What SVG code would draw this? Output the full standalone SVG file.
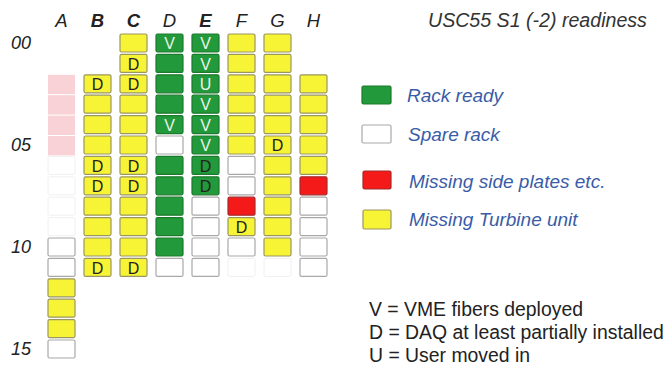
<svg xmlns="http://www.w3.org/2000/svg" width="667" height="365" viewBox="0 0 667 365">
<style>
text{font-family:"Liberation Sans",Arial,sans-serif}
.y{fill:#f6f434;stroke:#9a9660;stroke-width:1.2}
.g{fill:#22993a;stroke:#1c7a2e;stroke-width:1.2}
.w{fill:#ffffff;stroke:#a8a8a8;stroke-width:1.2}
.f{fill:#ffffff;stroke:#f0f0f0;stroke-width:1}
.p{fill:#f9d2d8}
.r{fill:#f41a1a;stroke:#a82828;stroke-width:1.2}
.lt{font-size:16px;text-anchor:middle}
.ld{fill:#222}
.lw{fill:#e8f5e8}
.hdr{font-size:18.5px;font-style:italic;fill:#222;text-anchor:middle}
.rowl{font-size:18px;font-style:italic;fill:#222}
.leg{font-size:19px;font-style:italic;fill:#3a5ca6}
.note{font-size:19.4px;fill:#222}
</style>
<defs>
<rect id="c" width="27" height="18" rx="1.5"/>
</defs>
<rect width="667" height="365" fill="#ffffff"/>
<text x="428" y="27" style="font-size:19.6px;font-style:italic;fill:#333">USC55 S1 (-2) readiness</text>
<g id="headers">
<text class="hdr" x="61.5" y="27">A</text>
<text class="hdr" x="97.5" y="27" font-weight="bold">B</text>
<text class="hdr" x="133.5" y="27" font-weight="bold">C</text>
<text class="hdr" x="169.5" y="27">D</text>
<text class="hdr" x="205.5" y="27" font-weight="bold">E</text>
<text class="hdr" x="241.5" y="27">F</text>
<text class="hdr" x="277.5" y="27">G</text>
<text class="hdr" x="313.5" y="27">H</text>
</g>
<g id="rowlabels">
<text class="rowl" x="11" y="49">00</text>
<text class="rowl" x="11" y="151">05</text>
<text class="rowl" x="11" y="253">10</text>
<text class="rowl" x="11" y="355">15</text>
</g>
<g id="colA">
<rect class="p" x="48" y="74.8" width="27" height="19.4"/>
<rect class="p" x="48" y="95.2" width="27" height="19.4"/>
<rect class="p" x="48" y="115.6" width="27" height="19.4"/>
<rect class="p" x="48" y="136" width="27" height="19.4"/>
<g id="A06"><use href="#c" class="f" x="48" y="156.4"/></g>
<g id="A07"><use href="#c" class="f" x="48" y="176.8"/></g>
<g id="A08"><use href="#c" class="f" x="48" y="197.2"/></g>
<g id="A09"><use href="#c" class="f" x="48" y="217.6"/></g>
<g id="A10"><use href="#c" class="w" x="48" y="238"/></g>
<g id="A11"><use href="#c" class="w" x="48" y="258.4"/></g>
<g id="A12"><use href="#c" class="y" x="48" y="278.8"/></g>
<g id="A13"><use href="#c" class="y" x="48" y="299.2"/></g>
<g id="A14"><use href="#c" class="y" x="48" y="319.6"/></g>
<g id="A15"><use href="#c" class="w" x="48" y="340"/></g>
</g>
<g id="colB">
<g id="B02"><use href="#c" class="y" x="84" y="74.8"/><text class="lt ld" x="97.5" y="90">D</text></g>
<g id="B03"><use href="#c" class="y" x="84" y="95.2"/></g>
<g id="B04"><use href="#c" class="y" x="84" y="115.6"/></g>
<g id="B05"><use href="#c" class="y" x="84" y="136"/></g>
<g id="B06"><use href="#c" class="y" x="84" y="156.4"/><text class="lt ld" x="97.5" y="171.6">D</text></g>
<g id="B07"><use href="#c" class="y" x="84" y="176.8"/><text class="lt ld" x="97.5" y="192">D</text></g>
<g id="B08"><use href="#c" class="y" x="84" y="197.2"/></g>
<g id="B09"><use href="#c" class="y" x="84" y="217.6"/></g>
<g id="B10"><use href="#c" class="y" x="84" y="238"/></g>
<g id="B11"><use href="#c" class="y" x="84" y="258.4"/><text class="lt ld" x="97.5" y="273.6">D</text></g>
</g>
<g id="colC">
<g id="C00"><use href="#c" class="y" x="120" y="34"/></g>
<g id="C01"><use href="#c" class="y" x="120" y="54.4"/><text class="lt ld" x="133.5" y="69.6">D</text></g>
<g id="C02"><use href="#c" class="y" x="120" y="74.8"/><text class="lt ld" x="133.5" y="90">D</text></g>
<g id="C03"><use href="#c" class="y" x="120" y="95.2"/></g>
<g id="C04"><use href="#c" class="y" x="120" y="115.6"/></g>
<g id="C05"><use href="#c" class="y" x="120" y="136"/></g>
<g id="C06"><use href="#c" class="y" x="120" y="156.4"/><text class="lt ld" x="133.5" y="171.6">D</text></g>
<g id="C07"><use href="#c" class="y" x="120" y="176.8"/><text class="lt ld" x="133.5" y="192">D</text></g>
<g id="C08"><use href="#c" class="y" x="120" y="197.2"/></g>
<g id="C09"><use href="#c" class="y" x="120" y="217.6"/></g>
<g id="C10"><use href="#c" class="y" x="120" y="238"/></g>
<g id="C11"><use href="#c" class="y" x="120" y="258.4"/><text class="lt ld" x="133.5" y="273.6">D</text></g>
</g>
<g id="colD">
<g id="D00"><use href="#c" class="g" x="156" y="34"/><text class="lt lw" x="169.5" y="49.2">V</text></g>
<g id="D01"><use href="#c" class="g" x="156" y="54.4"/></g>
<g id="D02"><use href="#c" class="g" x="156" y="74.8"/></g>
<g id="D03"><use href="#c" class="g" x="156" y="95.2"/></g>
<g id="D04"><use href="#c" class="g" x="156" y="115.6"/><text class="lt lw" x="169.5" y="130.8">V</text></g>
<g id="D05"><use href="#c" class="w" x="156" y="136"/></g>
<g id="D06"><use href="#c" class="g" x="156" y="156.4"/></g>
<g id="D07"><use href="#c" class="g" x="156" y="176.8"/></g>
<g id="D08"><use href="#c" class="g" x="156" y="197.2"/></g>
<g id="D09"><use href="#c" class="g" x="156" y="217.6"/></g>
<g id="D10"><use href="#c" class="g" x="156" y="238"/></g>
<g id="D11"><use href="#c" class="w" x="156" y="258.4"/></g>
</g>
<g id="colE">
<g id="E00"><use href="#c" class="g" x="192" y="34"/><text class="lt lw" x="205.5" y="49.2">V</text></g>
<g id="E01"><use href="#c" class="g" x="192" y="54.4"/><text class="lt lw" x="205.5" y="69.6">V</text></g>
<g id="E02"><use href="#c" class="g" x="192" y="74.8"/><text class="lt lw" x="205.5" y="90">U</text></g>
<g id="E03"><use href="#c" class="g" x="192" y="95.2"/><text class="lt lw" x="205.5" y="110.4">V</text></g>
<g id="E04"><use href="#c" class="g" x="192" y="115.6"/><text class="lt lw" x="205.5" y="130.8">V</text></g>
<g id="E05"><use href="#c" class="g" x="192" y="136"/><text class="lt lw" x="205.5" y="151.2">V</text></g>
<g id="E06"><use href="#c" class="g" x="192" y="156.4"/><text class="lt ld" x="205.5" y="171.6">D</text></g>
<g id="E07"><use href="#c" class="g" x="192" y="176.8"/><text class="lt ld" x="205.5" y="192">D</text></g>
<g id="E08"><use href="#c" class="w" x="192" y="197.2"/></g>
<g id="E09"><use href="#c" class="w" x="192" y="217.6"/></g>
<g id="E10"><use href="#c" class="w" x="192" y="238"/></g>
<g id="E11"><use href="#c" class="w" x="192" y="258.4"/></g>
</g>
<g id="colF">
<g id="F00"><use href="#c" class="y" x="228" y="34"/></g>
<g id="F01"><use href="#c" class="y" x="228" y="54.4"/></g>
<g id="F02"><use href="#c" class="y" x="228" y="74.8"/></g>
<g id="F03"><use href="#c" class="y" x="228" y="95.2"/></g>
<g id="F04"><use href="#c" class="y" x="228" y="115.6"/></g>
<g id="F05"><use href="#c" class="y" x="228" y="136"/></g>
<g id="F06"><use href="#c" class="w" x="228" y="156.4"/></g>
<g id="F07"><use href="#c" class="w" x="228" y="176.8"/></g>
<g id="F08"><use href="#c" class="r" x="228" y="197.2"/></g>
<g id="F09"><use href="#c" class="y" x="228" y="217.6"/><text class="lt ld" x="241.5" y="232.8">D</text></g>
<g id="F10"><use href="#c" class="w" x="228" y="238"/></g>
<g id="F11"><use href="#c" class="f" x="228" y="258.4"/></g>
</g>
<g id="colG">
<g id="G00"><use href="#c" class="y" x="264" y="34"/></g>
<g id="G01"><use href="#c" class="y" x="264" y="54.4"/></g>
<g id="G02"><use href="#c" class="y" x="264" y="74.8"/></g>
<g id="G03"><use href="#c" class="y" x="264" y="95.2"/></g>
<g id="G04"><use href="#c" class="y" x="264" y="115.6"/></g>
<g id="G05"><use href="#c" class="y" x="264" y="136"/><text class="lt ld" x="277.5" y="151.2">D</text></g>
<g id="G06"><use href="#c" class="y" x="264" y="156.4"/></g>
<g id="G07"><use href="#c" class="y" x="264" y="176.8"/></g>
<g id="G08"><use href="#c" class="y" x="264" y="197.2"/></g>
<g id="G09"><use href="#c" class="y" x="264" y="217.6"/></g>
<g id="G10"><use href="#c" class="y" x="264" y="238"/></g>
<g id="G11"><use href="#c" class="f" x="264" y="258.4"/></g>
</g>
<g id="colH">
<g id="H02"><use href="#c" class="y" x="300" y="74.8"/></g>
<g id="H03"><use href="#c" class="y" x="300" y="95.2"/></g>
<g id="H04"><use href="#c" class="y" x="300" y="115.6"/></g>
<g id="H05"><use href="#c" class="y" x="300" y="136"/></g>
<g id="H06"><use href="#c" class="y" x="300" y="156.4"/></g>
<g id="H07"><use href="#c" class="r" x="300" y="176.8"/></g>
<g id="H08"><use href="#c" class="w" x="300" y="197.2"/></g>
<g id="H09"><use href="#c" class="w" x="300" y="217.6"/></g>
<g id="H10"><use href="#c" class="w" x="300" y="238"/></g>
<g id="H11"><use href="#c" class="w" x="300" y="258.4"/></g>
</g>
<g id="connectors"/>
<g id="legend">
<g id="leg-ready"><rect class="g" x="362" y="86" width="29" height="18" rx="1.5"/><text class="leg" x="407" y="102">Rack ready</text></g>
<g id="leg-spare"><rect class="w" x="362" y="125" width="29" height="18" rx="1.5"/><text class="leg" x="408" y="141">Spare rack</text></g>
<g id="leg-missing"><rect class="r" x="363" y="171" width="28" height="18" rx="1.5"/><text class="leg" x="409" y="188">Missing side plates etc.</text></g>
<g id="leg-turbine"><rect class="y" x="363" y="210" width="28" height="19" rx="1.5"/><text class="leg" x="409" y="226">Missing Turbine unit</text></g>
</g>
<g id="notes">
<text class="note" x="369" y="316">V = VME fibers deployed</text>
<text class="note" x="369" y="339">D = DAQ at least partially installed</text>
<text class="note" x="369" y="362">U = User moved in</text>
</g>
</svg>
